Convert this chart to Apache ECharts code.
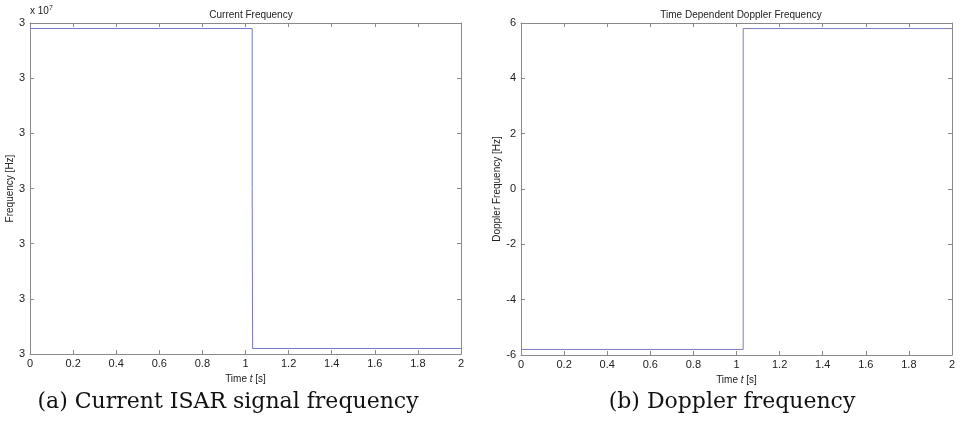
<!DOCTYPE html>
<html><head><meta charset="utf-8">
<script src="https://cdn.jsdelivr.net/npm/echarts@6/dist/echarts.min.js"></script>
<style>html,body{margin:0;padding:0;background:#fff}#c{width:964px;height:422px}</style>
</head><body><div id="c"></div>
<script>
// Data
const xTicks = [0, 0.2, 0.4, 0.6, 0.8, 1, 1.2, 1.4, 1.6, 1.8, 2];
const timeA = [0, 1.031, 1.031, 1.033, 2];
const freqA = [30000005.8, 30000005.8, 30000000, 29999994.2, 29999994.2];
const timeB = [0, 1.031, 1.031, 2];
const dopplerB = [-5.8, -5.8, 5.8, 5.8];
const titleA = 'Current Frequency';
const titleB = 'Time Dependent Doppler Frequency';
const captionA = '(a) Current ISAR signal frequency';
const captionB = '(b) Doppler frequency';

const axisColor = '#8a8a8a';
const font = 'Liberation Sans, Arial, sans-serif';
const chart = echarts.init(document.getElementById('c'));

function xAx(grid, pos, show) {
  return {
    type: 'value', gridIndex: grid, position: pos, min: 0, max: 2, interval: 0.2,
    axisLine: {show: true, onZero: false, lineStyle: {color: axisColor, width: 1}},
    axisTick: {show: true, inside: true, length: 4, lineStyle: {color: axisColor}},
    splitLine: {show: false},
    axisLabel: {show: show, color: '#222', fontFamily: font, fontSize: 11, margin: 4,
      formatter: v => String(Math.round(v * 10) / 10)},
    name: show ? '{a|Time }{i|t}{a| [s]}' : '', nameLocation: 'middle', nameGap: 14,
    nameTextStyle: {rich: {a: {fontFamily: font, fontSize: 10, color: '#222'},
                            i: {fontFamily: font, fontSize: 10, fontStyle: 'italic', color: '#222'}}}
  };
}
function yAx(grid, pos, show, min, max, interval, fmt, name, gap) {
  return {
    type: 'value', gridIndex: grid, position: pos, min, max, interval,
    axisLine: {show: true, onZero: false, lineStyle: {color: axisColor, width: 1}},
    axisTick: {show: true, inside: true, length: 4, lineStyle: {color: axisColor}},
    splitLine: {show: false},
    axisLabel: {show: show, color: '#222', fontFamily: font, fontSize: 11, margin: 5, formatter: fmt},
    name: show ? name : '', nameLocation: 'middle', nameGap: gap, nameRotate: 90,
    nameTextStyle: {fontFamily: font, fontSize: 10, color: '#222'}
  };
}
const fmtA = v => (v / 1e7).toFixed(0);
const fmtB = v => String(v);

chart.setOption({
  animation: false,
  grid: [
    {left: 30, top: 23, width: 431, height: 331},
    {left: 521, top: 23, width: 431, height: 332}
  ],
  title: [
    {text: titleA, left: 246, top: 5, textAlign: 'center',
     textStyle: {fontFamily: font, fontSize: 10, fontWeight: 'normal', color: '#222'}},
    {text: titleB, left: 736, top: 5, textAlign: 'center',
     textStyle: {fontFamily: font, fontSize: 10, fontWeight: 'normal', color: '#222'}}
  ],
  xAxis: [xAx(0, 'bottom', true), xAx(0, 'top', false), xAx(1, 'bottom', true), xAx(1, 'top', false)],
  yAxis: [
    yAx(0, 'left', true, 29999994, 30000006, 2, fmtA, 'Frequency [Hz]', 14),
    yAx(0, 'right', false, 29999994, 30000006, 2, fmtA, '', 0),
    yAx(1, 'left', true, -6, 6, 2, fmtB, 'Doppler Frequency [Hz]', 17),
    yAx(1, 'right', false, -6, 6, 2, fmtB, '', 0)
  ],
  series: [
    {type: 'line', xAxisIndex: 0, yAxisIndex: 0, showSymbol: false, symbol: 'none',
     lineStyle: {color: '#7676d2', width: 1},
     data: timeA.map((t, i) => [t, freqA[i]])},
    {type: 'line', xAxisIndex: 2, yAxisIndex: 2, showSymbol: false, symbol: 'none',
     lineStyle: {color: '#7d7dbf', width: 1},
     data: timeB.map((t, i) => [t, dopplerB[i]])}
  ],
  graphic: [
    {type: 'text', left: 30, top: 5, style: {
      text: '{a|x 10}{s|7}', rich: {a: {fontFamily: font, fontSize: 10, fill: '#222'},
        s: {fontFamily: font, fontSize: 7, fill: '#222', verticalAlign: 'top', padding: [0, 0, 6, 0]}}}},
    {type: 'text', x: 228, y: 402, style: {text: captionA, fontFamily: 'DejaVu Serif, serif', fontSize: 22,
      fill: '#111', textAlign: 'center', textVerticalAlign: 'middle'}},
    {type: 'text', x: 732, y: 402, style: {text: captionB, fontFamily: 'DejaVu Serif, serif', fontSize: 22,
      fill: '#111', textAlign: 'center', textVerticalAlign: 'middle'}}
  ]
});
</script></body></html>
